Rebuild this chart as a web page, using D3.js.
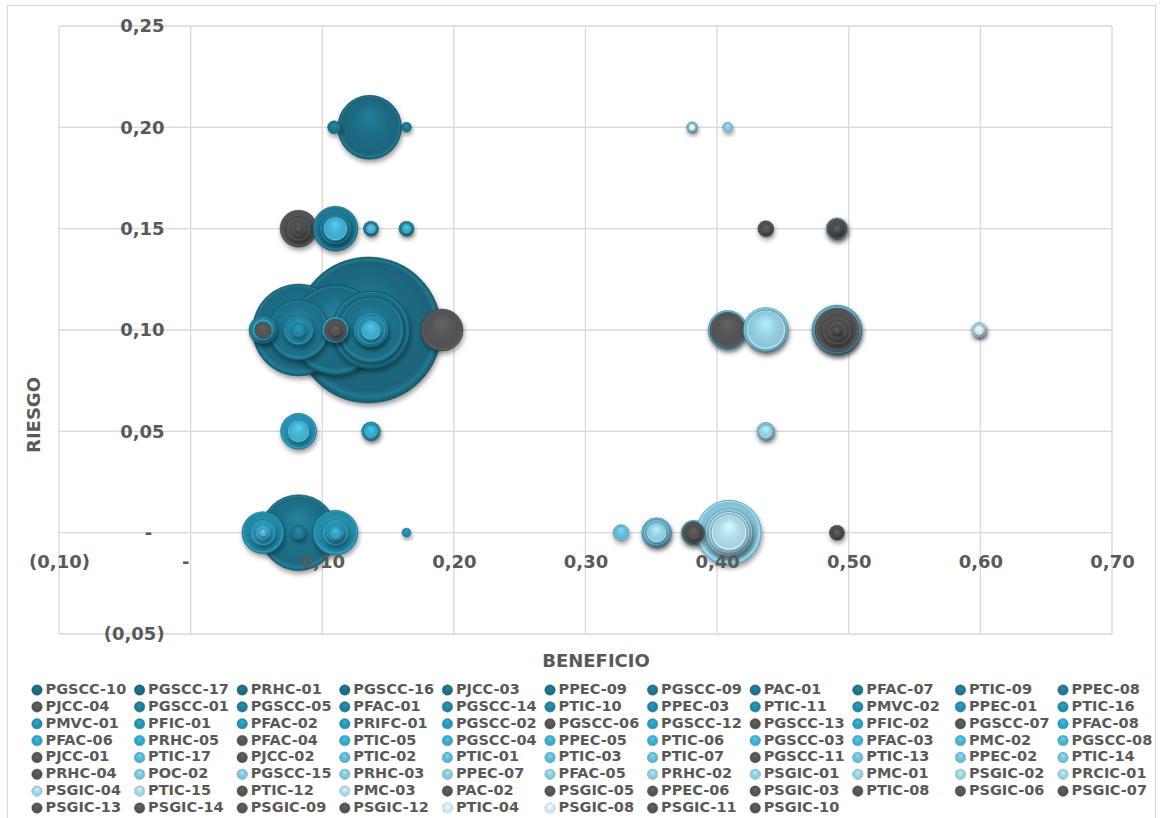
<!DOCTYPE html>
<html>
<head>
<meta charset="utf-8">
<script src="https://cdn.jsdelivr.net/npm/d3@7"></script>
<style>
  body { margin: 0; background: #fff; }
  svg { display: block; font-family: "DejaVu Sans", Verdana, sans-serif; font-weight: bold; }
</style>
</head>
<body>
<svg id="chart" width="1163" height="818"></svg>
<script>
// Project portfolio: benefit vs. risk, bubble size = relative budget
const projects = [
  "PGSCC-10","PGSCC-17","PRHC-01","PGSCC-16","PJCC-03","PPEC-09","PGSCC-09","PAC-01","PFAC-07","PTIC-09","PPEC-08",
  "PJCC-04","PGSCC-01","PGSCC-05","PFAC-01","PGSCC-14","PTIC-10","PPEC-03","PTIC-11","PMVC-02","PPEC-01","PTIC-16",
  "PMVC-01","PFIC-01","PFAC-02","PRIFC-01","PGSCC-02","PGSCC-06","PGSCC-12","PGSCC-13","PFIC-02","PGSCC-07","PFAC-08",
  "PFAC-06","PRHC-05","PFAC-04","PTIC-05","PGSCC-04","PPEC-05","PTIC-06","PGSCC-03","PFAC-03","PMC-02","PGSCC-08",
  "PJCC-01","PTIC-17","PJCC-02","PTIC-02","PTIC-01","PTIC-03","PTIC-07","PGSCC-11","PTIC-13","PPEC-02","PTIC-14",
  "PRHC-04","POC-02","PGSCC-15","PRHC-03","PPEC-07","PFAC-05","PRHC-02","PSGIC-01","PMC-01","PSGIC-02","PRCIC-01",
  "PSGIC-04","PTIC-15","PTIC-12","PMC-03","PAC-02","PSGIC-05","PPEC-06","PSGIC-03","PTIC-08","PSGIC-06","PSGIC-07",
  "PSGIC-13","PSGIC-14","PSGIC-09","PSGIC-12","PTIC-04","PSGIC-08","PSGIC-11","PSGIC-10"
];

const benefit = [
  0.135,0.136,0.082,0.110,0.082,0.137,0.137,0.082,0.109,0.164,0.082,
  0.082,0.110,0.110,0.137,0.164,0.055,0.082,0.082,0.164,0.055,0.110,
  0.137,0.137,0.082,0.137,0.055,0.082,0.110,0.082,0.110,0.082,0.110,
  0.055,0.110,0.055,0.137,0.055,0.164,0.137,0.110,0.082,0.137,0.055,
  0.110,0.408,0.110,0.491,0.382,0.354,0.327,0.191,0.354,0.491,0.381,
  0.408,0.437,0.408,0.437,0.409,0.409,0.491,0.437,0.354,0.437,0.599,
  0.409,0.599,0.437,0.409,0.491,0.491,0.491,0.491,0.382,0.491,0.491,
  0.491,0.491,0.437,0.382,0.599,0.381,0.491,0.491
];

const risk = [
  0.10,0.20,0.10,0.10,0.00,0.10,0.10,0.10,0.20,0.20,0.00,
  0.15,0.15,0.15,0.15,0.15,0.10,0.10,0.10,0.00,0.00,0.00,
  0.10,0.10,0.05,0.05,0.00,0.15,0.00,0.15,0.00,0.15,0.00,
  0.10,0.10,0.10,0.05,0.00,0.15,0.10,0.15,0.05,0.15,0.00,
  0.10,0.10,0.10,0.10,0.00,0.00,0.00,0.10,0.00,0.10,0.20,
  0.10,0.10,0.20,0.05,0.00,0.00,0.15,0.10,0.00,0.05,0.10,
  0.00,0.10,0.15,0.00,0.15,0.15,0.10,0.10,0.00,0.10,0.00,
  0.10,0.15,0.15,0.00,0.10,0.20,0.00,0.10
];

const budget = [
  100,19.2,39.7,38.0,27.1,28.5,20.4,16.9,0.79,0.47,0.92,
  6.4,9.5,4.8,1.06,1.06,3.7,4.2,0.92,0.38,8.3,9.5,
  5.7,4.2,6.1,1.69,3.2,2.9,3.2,1.06,1.52,0.23,0.79,
  2.27,3.2,1.2,0.92,1.06,0.47,1.88,2.7,2.27,0.47,0.30,
  2.27,7.1,0.68,11.7,2.9,4.2,1.2,8.3,3.2,10.4,0.57,
  5.7,9.5,0.47,1.52,19.8,10.8,2.27,7.5,1.88,0.92,0.68,
  8.3,1.06,1.2,6.1,1.88,0.79,9.1,4.2,2.27,1.88,1.06,
  0.47,0.30,0.47,0.92,0.47,0.23,0.38,0.17
];

const xTicks = [-0.10, 0.00, 0.10, 0.20, 0.30, 0.40, 0.50, 0.60, 0.70];
const yTicks = [-0.05, 0.00, 0.05, 0.10, 0.15, 0.20, 0.25];
const xTitle = "BENEFICIO";
const yTitle = "RIESGO";

// Projects drawn in the neutral gray tone
const grayProjects = [
  "PJCC-04","PGSCC-06","PGSCC-13","PGSCC-07","PFAC-04","PJCC-01","PJCC-02","PGSCC-11","PRHC-04",
  "PTIC-12","PAC-02","PSGIC-05","PPEC-06","PSGIC-03","PTIC-08","PSGIC-06","PSGIC-07","PSGIC-13",
  "PSGIC-14","PSGIC-09","PSGIC-12","PSGIC-11","PSGIC-10"
];

const tealRamp = d3.interpolateRgbBasis(["#1d6a80","#207b95","#2897b8","#32acd0","#62bad6","#8ccbdf","#bfe1ec","#dcf0f6"]);
const grayTone = "#555555";
const textColor = "#595959";
const gridColor = "#d9d9d9";
const fontFamily = '"DejaVu Sans", Verdana, sans-serif';

const data = projects.map((name, i) => ({
  name, i,
  benefit: benefit[i],
  risk: risk[i],
  budget: budget[i],
  color: grayProjects.includes(name) ? grayTone : tealRamp(i / (projects.length - 1))
}));

const svg = d3.select("#chart");
const x = d3.scaleLinear().domain([-0.10, 0.70]).range([59, 1112]);
const y = d3.scaleLinear().domain([-0.05, 0.25]).range([634, 26]);
const r = d3.scaleSqrt().domain([0, 100]).range([0, 73]);

const fmt = v => {
  if (Math.abs(v) < 1e-9) return "-";
  const s = d3.format(".2f")(Math.abs(v)).replace(".", ",");
  return v < 0 ? "(" + s + ")" : s;
};

// Defs: shading gradients and soft shadow
const defs = svg.append("defs");
const shadow = defs.append("filter").attr("id", "shadow")
  .attr("x", "-30%").attr("y", "-30%").attr("width", "160%").attr("height", "170%");
shadow.append("feDropShadow").attr("dx", 1).attr("dy", 3).attr("stdDeviation", 2.5)
  .attr("flood-color", "#000").attr("flood-opacity", 0.4);

data.forEach(d => {
  const c = d3.color(d.color);
  const g = defs.append("radialGradient").attr("id", "g" + d.i)
    .attr("cx", "50%").attr("cy", "50%").attr("r", "50%")
    .attr("fx", "50%").attr("fy", "30%");
  g.append("stop").attr("offset", "0%").attr("stop-color", c.brighter(0.45));
  g.append("stop").attr("offset", "55%").attr("stop-color", c);
  g.append("stop").attr("offset", "88%").attr("stop-color", c.darker(0.15));
  g.append("stop").attr("offset", "94%").attr("stop-color", c.brighter(0.35));
  g.append("stop").attr("offset", "100%").attr("stop-color", c.darker(0.6));
});

// Outer chart frame
svg.append("rect").attr("x", 7.5).attr("y", 5.5).attr("width", 1148).attr("height", 830)
  .attr("fill", "none").attr("stroke", gridColor).attr("stroke-width", 1);

// Gridlines
const grid = svg.append("g");
grid.selectAll("line.v").data(xTicks).join("line")
  .attr("x1", d => x(d)).attr("x2", d => x(d))
  .attr("y1", y(-0.05)).attr("y2", y(0.25))
  .attr("stroke", gridColor).attr("stroke-width", 1.3);
grid.selectAll("line.h").data(yTicks).join("line")
  .attr("x1", x(-0.10)).attr("x2", x(0.70))
  .attr("y1", d => y(d)).attr("y2", d => y(d))
  .attr("stroke", gridColor).attr("stroke-width", 1.3);

// Bubbles
svg.append("g").selectAll("circle").data(data).join("circle")
  .attr("cx", d => x(d.benefit))
  .attr("cy", d => y(d.risk))
  .attr("r", d => r(d.budget))
  .attr("fill", d => `url(#g${d.i})`)
  .attr("stroke", d => d3.color(d.color).darker(1.2))
  .attr("stroke-opacity", 0.6)
  .attr("stroke-width", 0.8)
  .attr("filter", "url(#shadow)");

// Axes (crossing at zero)
const xAxis = svg.append("g").attr("transform", `translate(0,${y(0)})`)
  .call(d3.axisBottom(x).tickValues(xTicks).tickFormat(fmt).tickSize(0).tickPadding(23))
  .attr("font-family", fontFamily).attr("font-size", 18).attr("font-weight", "bold");
xAxis.select(".domain").remove();
xAxis.selectAll("text").attr("fill", textColor)
  .attr("dx", d => Math.abs(d) < 1e-9 ? -5.5 : 0);

const yAxis = svg.append("g").attr("transform", `translate(${x(0)},0)`)
  .call(d3.axisLeft(y).tickValues(yTicks).tickFormat(fmt).tickSize(0).tickPadding(26))
  .attr("font-family", fontFamily).attr("font-size", 18).attr("font-weight", "bold");
yAxis.select(".domain").remove();
yAxis.selectAll("text").attr("fill", textColor)
  .attr("dx", d => Math.abs(d) < 1e-9 ? -12.5 : 0);

// Axis titles
svg.append("text").attr("x", 596).attr("y", 662).attr("text-anchor", "middle")
  .attr("dominant-baseline", "middle").attr("font-size", 18).attr("fill", textColor).text(xTitle);
svg.append("text").attr("transform", "translate(35,415) rotate(-90)").attr("text-anchor", "middle")
  .attr("dominant-baseline", "middle").attr("font-size", 18).attr("fill", textColor).text(yTitle);

// Legend: 11 columns, filled row by row
const cols = 11, colStep = 102.6, rowStep = 16.85;
const legend = svg.append("g");
const items = legend.selectAll("g").data(data).join("g")
  .attr("transform", d => `translate(${37 + (d.i % cols) * colStep},${690 + Math.floor(d.i / cols) * rowStep})`);
items.append("circle").attr("r", 5.3).attr("fill", d => `url(#g${d.i})`)
  .attr("stroke", d => d3.color(d.color).darker(1)).attr("stroke-opacity", 0.5).attr("stroke-width", 0.6);
items.append("text").attr("x", 8.5).attr("dominant-baseline", "middle")
  .attr("font-size", 14.5).attr("fill", textColor).text(d => d.name);
</script>
</body>
</html>
